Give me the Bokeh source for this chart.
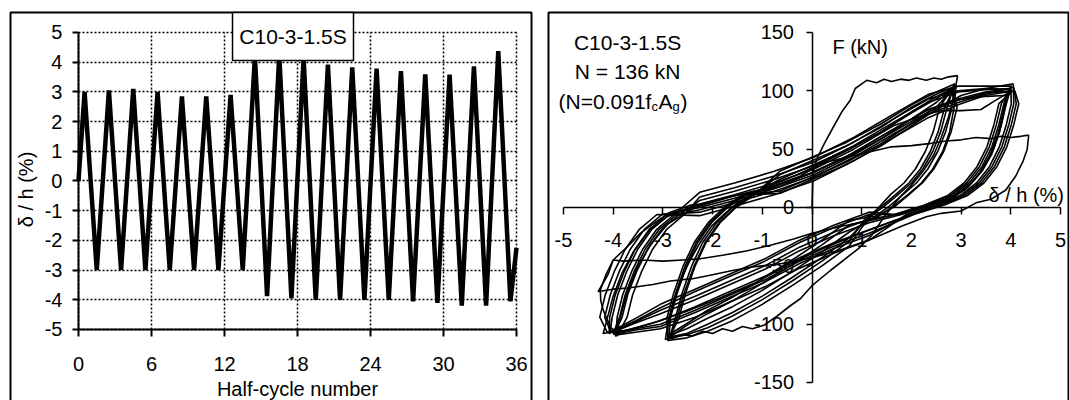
from math import pi
from bokeh.plotting import figure
from bokeh.layouts import row
from bokeh.models import Range1d, FixedTicker, Label, BoxAnnotation
from bokeh.embed import file_html
from bokeh.resources import INLINE

FONT = "Liberation Sans"

# ---------------- left panel: drift history ----------------
half_cycle = [0, 0.5, 1.5, 2.5, 3.5, 4.5, 5.5, 6.5, 7.5, 8.5, 9.5, 10.5, 11.5, 12.5,
              13.5, 14.5, 15.5, 16.5, 17.5, 18.5, 19.5, 20.5, 21.5, 22.5, 23.5, 24.5,
              25.5, 26.5, 27.5, 28.5, 29.5, 30.5, 31.5, 32.5, 33.5, 34.5, 35.5, 36]
drift_pct = [0, 3.0, -3.0, 3.05, -3.0, 3.1, -3.0, 3.0, -3.0, 2.85, -3.0, 2.85, -3.0, 2.9,
             -3.0, 4.2, -3.88, 4.25, -3.95, 4.15, -4.0, 3.92, -4.0, 3.83, -4.0, 3.78,
             -4.0, 3.7, -4.05, 3.59, -4.1, 3.58, -4.2, 3.86, -4.2, 4.37, -4.05, -2.25]
left_x_ticks = [0, 6, 12, 18, 24, 30, 36]
left_x_labels = ["0", "6", "12", "18", "24", "30", "36"]
left_y_ticks = [-5, -4, -3, -2, -1, 0, 1, 2, 3, 4, 5]
left_y_labels = ["-5", "-4", "-3", "-2", "-1", "0", "1", "2", "3", "4", "5"]

# ---------------- right panel: force vs drift ----------------
virgin_x = [0, 0.01, 0.02, 0.1, 0.25, 0.43, 0.6, 0.77, 0.87, 1.0, 1.1, 1.3, 1.45, 1.6,
            1.78, 1.95, 2.1, 2.3, 2.45, 2.6, 2.75, 2.93]
virgin_y = [0, 15, 30, 42, 55, 69, 82, 92, 102, 106, 109, 107, 110, 108, 110, 109, 111,
            109, 111, 110, 112, 113]

c3_1_x = [2.93, 2.86, 2.75, 2.6, 2.45, 2.25, 2.0, 1.75, 1.45, 1.2, 0.94, 0.37, 0.0, -0.23,
          -0.43, -0.7, -0.97, -1.2, -1.4, -1.6, -1.8, -2.0, -2.2, -2.4, -2.6, -2.8, -2.95,
          -2.9, -2.78, -2.62, -2.45, -2.25, -2.02, -1.75, -1.5, -1.2, -0.8, -0.3, 0.2, 0.8,
          1.4, 2.0, 2.45, 2.75, 2.9]
c3_1_y = [113, 96, 78, 60, 45, 32, 19, 8, -8, -24, -35, -54, -67, -78, -84, -93, -101,
          -104, -102, -106, -104, -108, -106, -110, -109, -112, -113, -100, -80, -60, -45,
          -30, -16, -5, 4, 12, 19, 28, 38, 51, 65, 81, 92, 100, 105]

c3_2_x = [2.9, 2.86, 2.77, 2.63, 2.43, 2.2, 1.93, 1.63, 1.28, 0.75, 0.2, -0.4, -1.0, -1.6,
          -2.1, -2.52, -2.86, -2.72, -2.57, -2.37, -2.15, -1.87, -1.55, -1.17, -0.65, 0.0,
          0.7, 1.4, 2.0, 2.5, 2.88]
c3_2_y = [105, 86, 65, 48, 33, 21, 11, 1, -9, -15, -32, -49, -65, -80, -91, -101, -111,
          -95, -73, -50, -30, -13, 0, 11, 28, 40, 53, 69, 86, 97, 104]

c3_3_x = [2.88, 2.67, 2.54, 2.38, 2.18, 1.95, 1.68, 1.4, 1.08, 0.75, 0.2, -0.4, -1.0,
          -1.6, -2.1, -2.52, -2.88, -2.85, -2.71, -2.52, -2.3, -2.02, -1.7, -1.32, -0.65,
          0.0, 0.7, 1.4, 2.0, 2.5, 2.86]
c3_3_y = [104, 86, 65, 48, 33, 21, 11, 1, -9, -29, -46, -63, -79, -93, -103, -109, -112,
          -95, -73, -50, -30, -13, 0, 11, 18, 30, 43, 59, 76, 90, 103]

c3_4_x = [2.86, 2.82, 2.69, 2.53, 2.33, 2.1, 1.83, 1.55, 1.23, 0.75, 0.2, -0.4, -1.0, -1.6,
          -2.1, -2.52, -2.84, -2.68, -2.54, -2.35, -2.13, -1.85, -1.53, -1.15, -0.65, 0.0,
          0.7, 1.4, 2.0, 2.5, 2.88]
c3_4_y = [103, 86, 65, 48, 33, 21, 11, 1, -9, -21, -38, -55, -71, -85, -95, -104, -109,
          -95, -73, -50, -30, -13, 0, 11, 31, 43, 56, 72, 88, 99, 106]

c3_5_x = [2.88, 2.57, 2.44, 2.28, 2.08, 1.85, 1.58, 1.3, 1.02, 0.75, 0.2, -0.4, -1.0,
          -1.6, -2.1, -2.55, -2.9, -2.92, -2.78, -2.59, -2.37, -2.09, -1.77, -1.39, -0.65,
          0.0, 0.7, 1.4, 2.0, 2.5, 2.8]
c3_5_y = [106, 86, 65, 48, 33, 21, 11, -2, -16, -33, -50, -67, -83, -97, -106, -112,
          -114, -95, -73, -50, -30, -13, 0, 11, 14, 26, 39, 55, 72, 86, 100]

c3_6_x = [2.8, 2.92, 2.8, 2.65, 2.45, 2.22, 1.95, 1.67, 1.35, 0.75, 0.2, -0.4, -1.0, -1.6,
          -2.1, -2.5, -2.84, -2.75, -2.61, -2.42, -2.2, -1.92, -1.6, -1.22, -0.65, 0.0,
          0.7, 1.4, 2.0, 2.5, 2.84]
c3_6_y = [100, 86, 65, 48, 33, 21, 11, 1, -7, -11, -28, -45, -61, -77, -88, -99, -108,
          -95, -73, -50, -30, -13, 0, 11, 24, 36, 49, 65, 82, 95, 102]

c3_7_x = [2.84, 2.72, 2.59, 2.43, 2.23, 2.0, 1.73, 1.45, 1.13, 0.75, 0.2, -0.4, -1.0,
          -1.6, -2.1, -2.52, -2.87, -2.88, -2.74, -2.55, -2.33, -2.05, -1.73, -1.35, -0.65,
          0.0, 0.7, 1.4, 2.0, 2.5, 3.0, 3.5, 4.05]
c3_7_y = [102, 86, 65, 48, 33, 21, 11, 1, -9, -26, -43, -60, -76, -90, -100, -108, -111,
          -95, -73, -50, -30, -13, 0, 11, 12, 24, 37, 53, 70, 84, 96, 102, 106]

c4_1_x = [4.05, 4.06, 3.96, 3.82, 3.62, 3.36, 3.02, 2.55, 1.95, 1.15, 0.45, -0.25, -0.95,
          -1.65, -2.35, -3.05, -3.55, -3.9, -3.95, -3.92, -3.81, -3.63, -3.41, -3.13, -2.77,
          -2.26, -1.56, -0.76, 0.04, 0.84, 1.64, 2.34, 2.94, 3.48, 4.02]
c4_1_y = [106, 89, 71, 52, 35, 21, 10, 2, -6, -24, -35, -48, -64, -77, -90, -102, -105,
          -108, -110, -94, -75, -55, -36, -19, -6, 13, 21, 31, 43, 60, 80, 97, 104, 104, 104]

c4_2_x = [4.02, 3.81, 3.71, 3.57, 3.37, 3.11, 2.77, 2.3, 1.7, 1.15, 0.45, -0.25, -0.95,
          -1.65, -2.35, -3.05, -3.55, -3.9, -4.05, -4.17, -4.06, -3.88, -3.66, -3.38, -3.02,
          -2.26, -1.56, -0.76, 0.04, 0.84, 1.64, 2.34, 2.94, 3.48, 4.0]
c4_2_y = [104, 89, 71, 52, 35, 21, 10, 2, -6, -10, -21, -34, -50, -63, -76, -88, -98, -104,
          -107, -94, -75, -55, -36, -19, -6, 0, 8, 18, 30, 47, 67, 84, 93, 99, 102]

c4_3_x = [4.0, 4.01, 3.91, 3.77, 3.57, 3.31, 2.97, 2.5, 1.9, 1.15, 0.45, -0.25, -0.95,
          -1.65, -2.35, -3.05, -3.55, -3.9, -3.92, -3.72, -3.61, -3.43, -3.21, -2.93, -2.57,
          -2.26, -1.56, -0.76, 0.04, 0.84, 1.64, 2.34, 2.94, 3.48, 3.98]
c4_3_y = [102, 89, 71, 52, 35, 21, 10, 2, -6, -28, -39, -52, -68, -81, -94, -104, -107,
          -109, -110, -94, -75, -55, -36, -19, -6, 9, 17, 27, 39, 56, 76, 93, 100, 102, 101]

c4_4_x = [3.98, 3.86, 3.76, 3.62, 3.42, 3.16, 2.82, 2.35, 1.75, 1.15, 0.45, -0.25, -0.95,
          -1.65, -2.35, -3.05, -3.55, -3.9, -4.08, -4.07, -3.96, -3.78, -3.56, -3.28, -2.92,
          -2.26, -1.56, -0.76, 0.04, 0.84, 1.64, 2.34, 2.94, 3.48, 4.06]
c4_4_y = [101, 89, 71, 52, 35, 21, 10, 2, -6, -6, -17, -30, -46, -59, -72, -86, -97, -104,
          -108, -94, -75, -55, -36, -19, -6, -4, 4, 14, 26, 43, 63, 80, 90, 97, 103]

c4_5_x = [4.06, 4.11, 4.01, 3.87, 3.67, 3.41, 3.07, 2.6, 2.0, 1.15, 0.45, -0.25, -0.95,
          -1.65, -2.35, -3.05, -3.55, -3.9, -3.98, -3.82, -3.71, -3.53, -3.31, -3.03, -2.67,
          -2.26, -1.56, -0.76, 0.04, 0.84, 1.64, 2.34, 2.94, 3.48, 4.0]
c4_5_y = [103, 89, 71, 52, 35, 21, 10, 2, -6, -19, -30, -43, -59, -72, -85, -97, -103,
          -107, -109, -94, -75, -55, -36, -19, -6, 6, 14, 24, 36, 53, 73, 90, 99, 101, 102]

c4_6_x = [4.0, 3.91, 3.81, 3.67, 3.47, 3.21, 2.87, 2.4, 1.8, 1.15, 0.45, -0.25, -0.95,
          -1.65, -2.35, -3.05, -3.55, -3.9, -4.12, -4.27, -4.16, -3.98, -3.76, -3.48, -3.12,
          -2.26, -1.56, -0.76, 0.04, 0.84, 1.64, 2.34, 2.94, 3.48, 4.08]
c4_6_y = [102, 89, 71, 52, 35, 21, 10, 2, -6, -13, -24, -37, -53, -66, -79, -91, -99,
          -105, -107, -94, -75, -55, -36, -19, -6, -7, 1, 11, 23, 40, 60, 77, 88, 96, 100]

c4_7_x = [4.08, 4.16, 4.06, 3.92, 3.72, 3.46, 3.12, 2.65, 2.05, 1.15, 0.45, -0.25, -0.95,
          -1.65, -2.35, -3.05, -3.55, -3.9, -4.0, -3.87, -3.76, -3.58, -3.36, -3.08, -2.72,
          -2.26, -1.56, -0.76, 0.04, 0.84, 1.64, 2.34, 2.94, 3.48, 4.04]
c4_7_y = [100, 89, 71, 52, 35, 21, 10, 2, -6, -22, -33, -46, -62, -75, -88, -100, -104,
          -107, -108, -94, -75, -55, -36, -19, -6, -2, 6, 16, 28, 45, 65, 82, 92, 98, 100]

c4_8_x = [4.04, 3.76, 3.66, 3.52, 3.32, 3.06, 2.72, 2.25, 1.65, 1.15, 0.45, -0.25, -0.95,
          -1.65, -2.35, -3.05, -3.55, -3.9, -4.06, -4.02, -3.91, -3.73, -3.51, -3.23, -2.87,
          -2.26, -1.56, -0.76, 0.04, 0.84, 1.64, 2.3, 2.6, 3.0, 3.4, 3.7, 3.94]
c4_8_y = [100, 89, 71, 52, 35, 21, 10, 2, -6, -4, -15, -28, -44, -57, -70, -83, -95, -103,
          -106, -94, -75, -55, -36, -19, -6, 3, 11, 21, 33, 50, 70, 80, 83, 83, 84, 92, 98]

c4_9_x = [3.94, 3.87, 3.77, 3.62, 3.42, 3.15, 2.8, 2.35, 1.8, 1.2, 0.6, 0.3, 0.0, -0.37,
          -0.8, -1.3, -1.8, -2.25, -2.6, -3.0, -3.4, -3.8, -4.0, -4.15, -4.26, -4.25, -4.2,
          -4.12, -4.05, -3.95, -3.85, -3.72, -3.52, -3.25, -2.9, -2.35, -1.65, -0.85,
          -0.05, 0.75, 1.55, 2.25, 2.85, 3.4, 3.9]
c4_9_y = [98, 83, 64, 46, 31, 18, 8, 1, -5, -11, -16, -19, -22, -27, -32, -37, -41, -44,
          -45, -46, -45, -46, -45, -58, -71, -80, -88, -96, -103, -106, -93, -73, -52, -32,
          -14, 0, 9, 17, 29, 45, 65, 82, 92, 95, 96]

c4_10_x = [3.9, 3.85, 3.74, 3.58, 3.37, 3.1, 2.75, 2.28, 1.68, 0.98, 0.28, -0.42, -1.12,
           -1.82, -2.52, -3.2, -3.7, -4.05, -4.2, -4.12, -4.0, -3.82, -3.58, -3.28, -2.92,
           -2.36, -1.66, -0.86, -0.23, 0.2, 0.6, 1.0, 1.3, 1.6, 2.0, 2.4, 2.7, 3.0, 3.3,
           3.6, 3.8, 4.0, 4.2, 4.36]
c4_10_y = [96, 82, 63, 45, 29, 16, 6, -2, -11, -22, -34, -48, -64, -77, -89, -99, -105,
           -107, -108, -95, -76, -56, -37, -20, -8, 1, 9, 17, 27, 38, 42, 46, 49, 52, 53,
           55, 57, 58, 60, 59, 61, 60, 61, 62]

final_x = [4.36, 4.33, 4.25, 4.1, 3.9, 3.6, 3.3, 3.0, 2.6, 2.3, 1.8, 1.2, 0.6, 0.0, -0.6,
           -1.2, -1.6, -2.05, -2.4, -2.85, -3.2, -3.7, -4.0, -4.3, -4.1, -4.0, -3.7, -3.45,
           -3.1, -2.85, -2.45, -2.3]
final_y = [62, 50, 40, 27, 15, 7, 4, -3, -5, -8, -16, -27, -36, -43, -48, -51, -54, -58,
           -61, -63, -66, -69, -70, -72, -57, -45, -33, -22, -11, -4, 2, 3]

right_x_ticks = [-5, -4, -3, -2, -1, 0, 1, 2, 3, 4, 5]
right_x_labels = ["-5", "-4", "-3", "-2", "-1", "0", "1", "2", "3", "4", "5"]
right_y_ticks = [-150, -100, -50, 0, 50, 100, 150]
right_y_labels = ["-150", "-100", "-50", "0", "50", "100", "150"]

loops_x = [virgin_x, c3_1_x, c3_2_x, c3_3_x, c3_4_x, c3_5_x, c3_6_x, c3_7_x,
           c4_1_x, c4_2_x, c4_3_x, c4_4_x, c4_5_x, c4_6_x, c4_7_x, c4_8_x, c4_9_x,
           c4_10_x, final_x]
loops_y = [virgin_y, c3_1_y, c3_2_y, c3_3_y, c3_4_y, c3_5_y, c3_6_y, c3_7_y,
           c4_1_y, c4_2_y, c4_3_y, c4_4_y, c4_5_y, c4_6_y, c4_7_y, c4_8_y, c4_9_y,
           c4_10_y, final_y]
for lx, ly in zip(loops_x, loops_y):
    assert len(lx) == len(ly), (len(lx), len(ly))


def style_axis(ax, lw):
    ax.axis_line_width = lw
    ax.axis_line_color = "black"
    ax.major_tick_line_width = lw
    ax.major_tick_line_color = "black"
    ax.major_tick_in = 0
    ax.minor_tick_line_color = None
    ax.major_label_text_font = FONT
    ax.major_label_text_font_size = "20px"
    ax.major_label_text_color = "black"


def txt(x, y, s, size="21px", align="left", base="alphabetic", xo=0, yo=0, angle=0):
    return Label(x=x, y=y, text=s, text_font=FONT, text_font_size=size,
                 text_color="black", text_align=align, text_baseline=base,
                 x_offset=xo, y_offset=yo, angle=angle)


def box(left, right, top, bottom, fill=None, lw=2.0):
    return BoxAnnotation(left=left, right=right, top=top, bottom=bottom,
                         fill_color=fill, fill_alpha=1 if fill else 0,
                         line_color="black", line_alpha=1, line_width=lw)


# ================= left figure =================
# frame covers page x 8..533, y 10..400 ; plot area x 0..36 -> 78..516, y 5..-5 -> 32..329
p1 = figure(width=540, height=400, x_range=Range1d(-5.753, 37.397),
            y_range=Range1d(-7.3906, 5.7407),
            output_backend="svg", toolbar_location=None,
            min_border_left=8, min_border_right=7, min_border_top=10,
            min_border_bottom=0)
p1.outline_line_color = None
p1.xaxis.fixed_location = -5
p1.yaxis.fixed_location = 0
p1.xaxis.bounds = (0, 36)
p1.yaxis.bounds = (-5, 5)
p1.xaxis.ticker = FixedTicker(ticks=left_x_ticks)
p1.yaxis.ticker = FixedTicker(ticks=left_y_ticks)
p1.xaxis.major_label_overrides = dict(zip(left_x_ticks, left_x_labels))
p1.yaxis.major_label_overrides = dict(zip(left_y_ticks, left_y_labels))
p1.xgrid.ticker = FixedTicker(ticks=left_x_ticks)
p1.ygrid.ticker = FixedTicker(ticks=left_y_ticks)
p1.xgrid.bounds = (0, 36)
p1.ygrid.bounds = (-5, 5)
p1.xgrid.cross_bounds = (-5, 5)
p1.ygrid.cross_bounds = (0, 36)
p1.grid.grid_line_color = "black"
p1.grid.grid_line_dash = "2 2"
p1.grid.grid_line_width = 1.5
for ax in p1.axis:
    style_axis(ax, 2)
p1.xaxis.major_tick_out = 7
p1.xaxis.major_label_standoff = 21
p1.yaxis.major_tick_out = 6
p1.yaxis.major_label_standoff = 10

p1.line(half_cycle, drift_pct, line_color="black", line_width=4.5, line_join="miter")

p1.add_layout(box(-5.589, 37.233, 5.673, -20))
p1.add_layout(box(12.658, 22.603, 5.673, 4.057, fill="white", lw=1.5))
p1.add_layout(txt(17.63, 4.865, "C10-3-1.5S", align="center", base="middle"))
p1.add_layout(txt(18.0, -6.99, "Half-cycle number", size="20px", align="center"))
p1.add_layout(txt(-4.274, -0.286, "δ / h (%)", size="20px", align="center",
                  base="middle", angle=pi / 2))

# ================= right figure =================
# frame covers page x 546..1069, y 10..400 ; x -5..5 -> 563..1060, y 150..-150 -> 32..382
p2 = figure(width=529, height=400, x_range=Range1d(-5.342, 5.181),
            y_range=Range1d(-165.43, 168.857),
            output_backend="svg", toolbar_location=None,
            min_border_left=6, min_border_right=0, min_border_top=10,
            min_border_bottom=0)
p2.outline_line_color = None
p2.grid.visible = False
p2.xaxis.fixed_location = 0
p2.yaxis.fixed_location = 0
p2.xaxis.bounds = (-5, 5)
p2.yaxis.bounds = (-150, 150)
p2.xaxis.ticker = FixedTicker(ticks=right_x_ticks)
p2.yaxis.ticker = FixedTicker(ticks=right_y_ticks)
p2.xaxis.major_label_overrides = dict(zip(right_x_ticks, right_x_labels))
p2.yaxis.major_label_overrides = dict(zip(right_y_ticks, right_y_labels))
for ax in p2.axis:
    style_axis(ax, 1.5)
    ax.level = "underlay"
p2.xaxis.major_tick_out = 7
p2.xaxis.major_label_standoff = 19
p2.yaxis.major_tick_out = 6
p2.yaxis.major_label_standoff = 12

p2.multi_line(xs=loops_x, ys=loops_y, line_color="black", line_width=1.6,
              line_join="round")

p2.add_layout(box(-5.302, 5.161, 167.14, -300))
p2.add_layout(txt(-3.71, 141.7, "C10-3-1.5S", align="center"))
p2.add_layout(txt(-3.71, 116.5, "N = 136 kN", align="center"))
p2.add_layout(txt(-3.71, 90.8, "(N=0.091f", xo=-69))
p2.add_layout(txt(-3.71, 90.8, "c", size="13px", xo=24, yo=-5))
p2.add_layout(txt(-3.71, 90.8, "A", xo=31))
p2.add_layout(txt(-3.71, 90.8, "g", size="13px", xo=45, yo=-5))
p2.add_layout(txt(-3.71, 90.8, ")", xo=53))
p2.add_layout(txt(0.41, 137.4, "F (kN)", size="20px"))
p2.add_layout(txt(3.55, 10.3, "δ / h (%)", size="20px"))

layout = row(p1, p2)
open("out.html", "w").write(file_html(layout, INLINE))
